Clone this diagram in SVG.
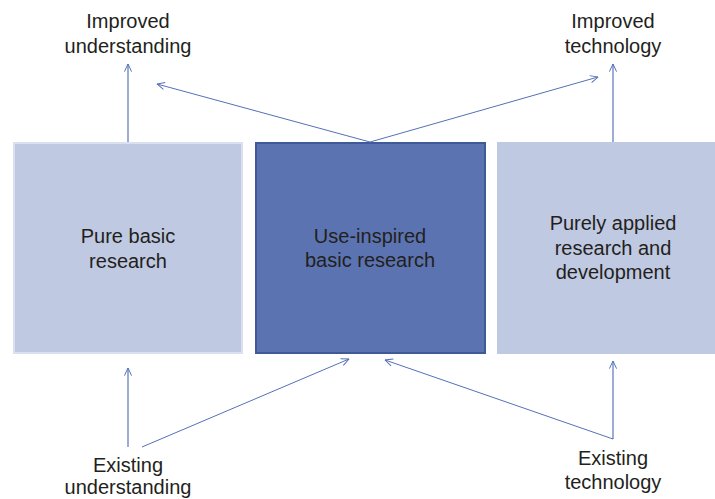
<svg xmlns="http://www.w3.org/2000/svg" width="715" height="499" viewBox="0 0 715 499">
<defs>
<marker id="arr" viewBox="0 0 10 10" refX="9.5" refY="5" markerWidth="9" markerHeight="9" markerUnits="userSpaceOnUse" orient="auto">
<path d="M1,1 L9.5,5 L1,9" fill="none" stroke="#5470b8" stroke-width="1.1"/>
</marker>
</defs>
<style>
text{font-family:"Liberation Sans",Arial,sans-serif;font-size:20px;fill:#231f20;text-anchor:middle}
.light{fill:#bfc9e1}
.conn{stroke:#5470b8;stroke-width:1;fill:none;marker-end:url(#arr)}
.vert{stroke:#7c91c9;stroke-width:1.5;fill:none;marker-end:url(#arr)}
</style>
<rect width="715" height="499" fill="#ffffff"/>
<g id="pure-basic">
<rect x="14" y="143" width="228" height="210" class="light" stroke="#d9e0ef" stroke-width="2"/>
<text x="128" y="243">Pure basic</text>
<text x="128" y="268">research</text>
</g>
<g id="use-inspired">
<rect x="256" y="143" width="229" height="210" fill="#5b74b1" stroke="#3f5a96" stroke-width="2"/>
<text x="370" y="243">Use-inspired</text>
<text x="370" y="267">basic research</text>
</g>
<g id="purely-applied">
<rect x="497" y="142" width="220" height="212" class="light"/>
<text x="613" y="230">Purely applied</text>
<text x="613" y="255">research and</text>
<text x="613" y="279">development</text>
</g>
<g id="improved-understanding">
<text x="128" y="28">Improved</text>
<text x="128" y="53">understanding</text>
</g>
<g id="improved-technology">
<text x="613" y="28">Improved</text>
<text x="613" y="53">technology</text>
</g>
<g id="existing-understanding">
<text x="128" y="472">Existing</text>
<text x="128" y="494">understanding</text>
</g>
<g id="existing-technology">
<text x="613" y="465">Existing</text>
<text x="613" y="489">technology</text>
</g>
<g id="connectors">
<line x1="128" y1="142" x2="128" y2="64" class="vert"/>
<line x1="613" y1="142" x2="613" y2="64" class="vert"/>
<line x1="370" y1="142" x2="157" y2="84" class="conn"/>
<line x1="370" y1="142" x2="598" y2="77" class="conn"/>
<line x1="128" y1="447" x2="128" y2="368" class="vert"/>
<line x1="142" y1="447" x2="349" y2="359" class="conn"/>
<line x1="613" y1="439" x2="613" y2="361" class="vert"/>
<line x1="613" y1="439" x2="385" y2="360" class="conn"/>
</g>
</svg>
